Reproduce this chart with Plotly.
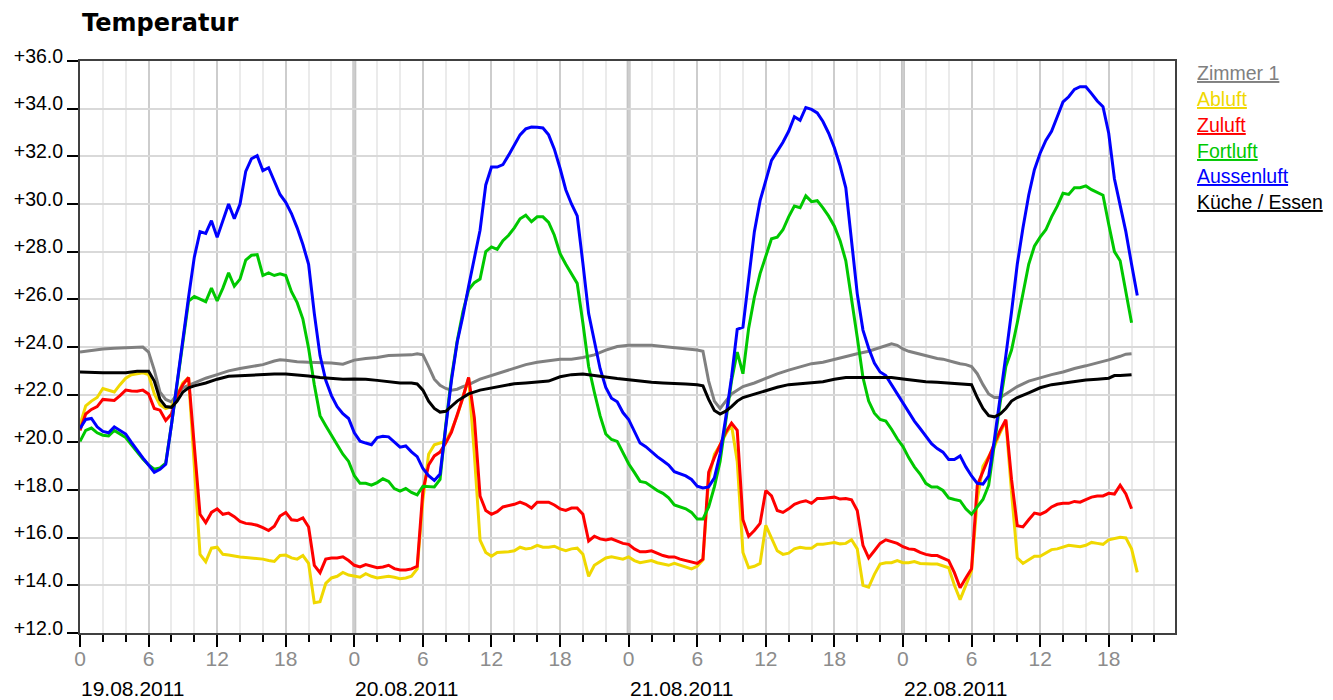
import plotly.graph_objects as go

# ---- data: (hour since 19.08.2011 00:00, temperature) ----
zimmer1 = [(0,23.79),(1,23.87),(2,23.92),(3,23.95),(4,23.98),(5,24.01),(5.5,24.0),(6,23.79),(6.5,23.03),(7,22.11),(7.5,21.8),(8,21.7),(8.5,22.03),(9,22.29),(10,22.49),(11,22.69),(12,22.84),(13,23.0),(14,23.1),(15,23.18),(16,23.26),(17,23.41),(17.5,23.46),(18,23.44),(19,23.38),(20,23.36),(21,23.36),(22,23.33),(23,23.28),
    (24,23.45),(25,23.52),(26,23.56),(27,23.64),(28,23.64),(29,23.67),(29.5,23.72),(30,23.67),(30.5,23.18),(31,22.65),(31.5,22.39),(32,22.26),(32.5,22.19),(33,22.23),(33.5,22.34),(34,22.42),(35,22.65),(36,22.8),(37,22.95),(38,23.1),(39,23.26),(40,23.36),(41,23.41),(42,23.49),(43,23.49),(44,23.56),(45,23.67),(46,23.87),(47,24.02),
    (48,24.07),(49,24.07),(50,24.07),(51,24.02),(52,23.98),(53,23.92),(54,23.87),(54.5,23.82),(55,22.57),(55.5,21.73),(56,21.42),(56.5,21.73),(57,22.03),(57.5,22.19),(58,22.34),(59,22.49),(60,22.69),(61,22.87),(62,23.03),(63,23.18),(64,23.3),(65,23.36),(66,23.49),(67,23.61),(68,23.72),(69,23.82),(70,23.98),(71,24.13),(71.5,24.07),
    (72,23.92),(72.5,23.82),(73,23.76),(73.5,23.72),(74,23.64),(74.5,23.57),(75,23.52),(75.5,23.49),(76,23.44),(76.5,23.36),(77,23.3),(77.5,23.26),(78,23.18),(78.5,22.88),(79,22.42),(79.5,22.03),(80,21.88),(80.5,21.88),(81,22.03),(81.5,22.19),(82,22.34),(83,22.57),(84,22.72),(85,22.84),(86,22.95),(87,23.1),(88,23.21),(89,23.33),(90,23.46),(91,23.61),(91.5,23.7),(92,23.72)]

abluft = [(0,20.73),(0.5,21.53),(1,21.73),(1.5,21.88),(2,22.26),(2.5,22.19),(3,22.11),(3.5,22.42),(4,22.69),(4.5,22.84),(5,22.87),(5.5,22.92),(6,22.84),(6.5,22.03),(7,21.57),(7.5,21.42),(8,21.5),(8.5,22.03),(9,22.49),(9.5,22.72),(10.5,15.3),(11,14.99),(11.5,15.56),(12,15.6),(12.5,15.3),(13,15.27),(13.5,15.22),(14,15.19),(14.5,15.17),(15,15.15),(15.5,15.12),(16,15.1),(16.5,15.04),(17,15.0),(17.5,15.25),(18,15.27),(18.5,15.15),(19,15.1),(19.5,15.25),(20,14.92),(20.5,13.27),(21,13.31),(21.5,14.08),(22,14.31),(22.5,14.38),(23,14.54),(23.5,14.43),
    (24,14.38),(24.5,14.34),(25,14.49),(25.5,14.38),(26,14.31),(26.5,14.34),(27,14.38),(27.5,14.34),(28,14.28),(28.5,14.31),(29,14.38),(29.5,14.69),(30,17.6),(30.5,19.5),(31,19.9),(31.5,19.97),(32,20.04),(32.5,20.5),(33,21.1),(33.5,21.9),(34,22.7),(34.5,19.5),(35,15.9),(35.5,15.38),(36,15.22),(36.5,15.38),(37,15.38),(37.5,15.41),(38,15.45),(38.5,15.6),(39,15.53),(39.5,15.56),(40,15.68),(40.5,15.6),(41,15.6),(41.5,15.64),(42,15.53),(42.5,15.45),(43,15.53),(43.5,15.56),(44,15.3),(44.5,14.38),(45,14.84),(45.5,15.0),(46,15.15),(46.5,15.2),(47,15.15),(47.5,15.1),
    (48,15.19),(48.5,15.04),(49,14.95),(49.5,14.98),(50,15.04),(50.5,14.95),(51,14.89),(51.5,14.84),(52,14.92),(52.5,14.84),(53,14.77),(53.5,14.69),(54,14.8),(54.5,15.07),(55,18.44),(55.5,19.5),(56,19.89),(56.5,20.35),(57,20.73),(57.5,19.2),(58,15.38),(58.5,14.74),(59,14.8),(59.5,14.92),(60,16.52),(60.5,15.98),(61,15.45),(61.5,15.3),(62,15.35),(62.5,15.53),(63,15.6),(63.5,15.56),(64,15.56),(64.5,15.72),(65,15.72),(65.5,15.76),(66,15.8),(66.5,15.74),(67,15.76),(67.5,15.91),(68,15.53),(68.5,14.0),(69,13.92),(69.5,14.46),(70,14.89),(70.5,14.95),(71,14.95),(71.5,15.04),
    (72,14.95),(72.5,14.95),(73,15.0),(73.5,14.92),(74,14.89),(74.5,14.89),(75,14.89),(75.5,14.8),(76,14.74),(76.5,14.0),(77,13.4),(77.5,14.0),(78,14.61),(78.5,17.6),(79,19.0),(79.5,19.4),(80,19.82),(80.5,20.4),(81,20.9),(81.5,17.9),(82,15.15),(82.5,14.92),(83,15.07),(83.5,15.22),(84,15.22),(84.5,15.35),(85,15.5),(85.5,15.53),(86,15.6),(86.5,15.68),(87,15.65),(87.5,15.62),(88,15.68),(88.5,15.8),(89,15.76),(89.5,15.72),(90,15.91),(90.5,15.95),(91,16.02),(91.5,15.99),(92,15.53),(92.5,14.54)]

zuluft = [(0,20.5),(0.5,21.19),(1,21.38),(1.5,21.5),(2,21.8),(2.5,21.78),(3,21.76),(3.5,21.96),(4,22.19),(4.5,22.15),(5,22.14),(5.5,22.19),(6,22.03),(6.5,21.42),(7,21.35),(7.5,20.92),(8,21.19),(8.5,21.96),(9,22.42),(9.5,22.72),(10.5,16.98),(11,16.63),(11.5,17.06),(12,17.21),(12.5,16.98),(13,17.03),(13.5,16.88),(14,16.68),(14.5,16.6),(15,16.57),(15.5,16.52),(16,16.42),(16.5,16.3),(17,16.48),(17.5,16.91),(18,17.06),(18.5,16.75),(19,16.72),(19.5,16.83),(20,16.45),(20.5,14.84),(21,14.53),(21.5,15.1),(22,15.15),(22.5,15.15),(23,15.2),(23.5,15.04),
    (24,14.84),(24.5,14.77),(25,14.87),(25.5,14.8),(26,14.74),(26.5,14.77),(27,14.84),(27.5,14.7),(28,14.64),(28.5,14.64),(29,14.69),(29.5,14.8),(30,17.98),(30.5,19.05),(31,19.43),(31.5,19.59),(32,19.97),(32.5,20.43),(33,21.12),(33.5,21.88),(34,22.72),(34.5,21.04),(35,17.75),(35.5,17.14),(36,16.98),(36.5,17.09),(37,17.29),(37.5,17.34),(38,17.4),(38.5,17.49),(39,17.4),(39.5,17.24),(40,17.49),(40.5,17.49),(41,17.49),(41.5,17.37),(42,17.21),(42.5,17.14),(43,17.24),(43.5,17.24),(44,16.98),(44.5,15.86),(45,16.06),(45.5,15.95),(46,15.9),(46.5,15.95),(47,15.86),(47.5,15.76),
    (48,15.72),(48.5,15.53),(49,15.41),(49.5,15.41),(50,15.45),(50.5,15.35),(51,15.25),(51.5,15.19),(52,15.19),(52.5,15.1),(53,15.04),(53.5,14.95),(54,14.92),(54.5,15.1),(55,18.74),(55.5,19.36),(56,19.89),(56.5,20.43),(57,20.81),(57.5,20.5),(58,16.75),(58.5,16.06),(59,16.3),(59.5,16.6),(60,17.98),(60.5,17.75),(61,17.14),(61.5,17.06),(62,17.21),(62.5,17.4),(63,17.49),(63.5,17.55),(64,17.44),(64.5,17.64),(65,17.64),(65.5,17.67),(66,17.7),(66.5,17.62),(67,17.64),(67.5,17.59),(68,17.14),(68.5,15.68),(69,15.15),(69.5,15.45),(70,15.76),(70.5,15.91),(71,15.84),(71.5,15.76),
    (72,15.62),(72.5,15.53),(73,15.5),(73.5,15.38),(74,15.3),(74.5,15.25),(75,15.25),(75.5,15.15),(76,15.04),(76.5,14.53),(77,13.9),(77.5,14.31),(78,14.69),(78.5,18.2),(79,18.82),(79.5,19.36),(80,19.95),(80.5,20.5),(81,20.95),(81.5,18.44),(82,16.5),(82.5,16.45),(83,16.75),(83.5,17.03),(84,16.98),(84.5,17.09),(85,17.29),(85.5,17.4),(86,17.44),(86.5,17.44),(87,17.52),(87.5,17.49),(88,17.6),(88.5,17.7),(89,17.75),(89.5,17.75),(90,17.86),(90.5,17.83),(91,18.2),(91.5,17.83),(92,17.21)]

fortluft = [(0,20.04),(0.5,20.5),(1,20.6),(1.5,20.4),(2,20.3),(2.5,20.27),(3,20.5),(3.5,20.35),(4,20.2),(4.5,19.9),(5,19.59),(5.5,19.3),(6,19.05),(6.5,18.87),(7,18.93),(7.5,19.13),(8,20.73),(8.5,22.42),(9,24.25),(9.5,25.93),(10,26.12),(10.5,26.0),(11,25.9),(11.5,26.47),(12,25.93),(12.5,26.47),(13,27.11),(13.5,26.55),(14,26.85),(14.5,27.65),(15,27.85),(15.5,27.88),(16,27.0),(16.5,27.11),(17,27.0),(17.5,27.07),(18,27.0),(18.5,26.32),(19,25.86),(19.5,25.17),(20,23.95),(20.5,22.42),(21,21.12),(21.5,20.7),(22,20.27),(22.5,19.9),(23,19.5),(23.5,19.2),
    (24,18.6),(24.5,18.28),(25,18.28),(25.5,18.2),(26,18.31),(26.5,18.47),(27,18.36),(27.5,18.06),(28,17.95),(28.5,18.06),(29,17.9),(29.5,17.8),(30,18.16),(30.5,18.16),(31,18.13),(31.5,18.44),(32,20.73),(32.5,22.72),(33,24.25),(33.5,25.48),(34,26.4),(34.5,26.7),(35,26.85),(35.5,28.0),(36,28.2),(36.5,28.1),(37,28.46),(37.5,28.69),(38,29.0),(38.5,29.38),(39,29.53),(39.5,29.26),(40,29.46),(40.5,29.46),(41,29.23),(41.5,28.69),(42,27.92),(42.5,27.47),(43,27.08),(43.5,26.67),(44,25.0),(44.5,23.18),(45,22.1),(45.5,21.12),(46,20.35),(46.5,20.12),(47,20.04),(47.5,19.59),
    (48,19.1),(48.5,18.74),(49,18.36),(49.5,18.31),(50,18.13),(50.5,17.98),(51,17.86),(51.5,17.67),(52,17.37),(52.5,17.29),(53,17.21),(53.5,17.06),(54,16.78),(54.5,16.78),(55,17.29),(55.5,18.13),(56,19.2),(56.5,20.89),(57,22.57),(57.5,23.79),(58,22.88),(58.5,24.79),(59,26.09),(59.5,27.08),(60,27.77),(60.5,28.54),(61,28.61),(61.5,28.92),(62,29.46),(62.5,29.91),(63,29.84),(63.5,30.34),(64,30.1),(64.5,30.14),(65,29.84),(65.5,29.49),(66,29.07),(66.5,28.46),(67,27.62),(67.5,26.09),(68,24.41),(68.5,22.72),(69,21.73),(69.5,21.22),(70,20.96),(70.5,20.89),(71,20.55),(71.5,20.15),
    (72,19.82),(72.5,19.36),(73,18.97),(73.5,18.67),(74,18.28),(74.5,18.13),(75,18.13),(75.5,17.98),(76,17.67),(76.5,17.6),(77,17.55),(77.5,17.21),(78,16.98),(78.5,17.29),(79,17.6),(79.5,18.2),(80,19.97),(80.5,21.65),(81,23.18),(81.5,23.87),(82,25.02),(82.5,26.24),(83,27.47),(83.5,28.23),(84,28.61),(84.5,28.92),(85,29.46),(85.5,29.91),(86,30.45),(86.5,30.4),(87,30.68),(87.5,30.68),(88,30.76),(88.5,30.6),(89,30.5),(89.5,30.37),(90,29.15),(90.5,28.0),(91,27.62),(91.5,26.4),(92,25.02)]

aussenluft = [(0,20.58),(0.5,20.96),(1,21.0),(1.5,20.65),(2,20.46),(2.5,20.4),(3,20.65),(3.5,20.5),(4,20.35),(4.5,20.0),(5,19.66),(5.5,19.35),(6,19.05),(6.5,18.74),(7,18.87),(7.5,19.08),(8,20.73),(8.5,22.57),(9,24.4),(9.5,26.1),(10,27.77),(10.5,28.84),(11,28.77),(11.5,29.3),(12,28.6),(12.5,29.3),(13,30.0),(13.5,29.38),(14,30.0),(14.5,31.37),(15,31.9),(15.5,32.03),(16,31.4),(16.5,31.52),(17,30.99),(17.5,30.4),(18,30.07),(18.5,29.6),(19,29.0),(19.5,28.3),(20,27.47),(20.5,25.4),(21,23.64),(21.5,22.6),(22,21.96),(22.5,21.5),(23,21.2),(23.5,21.0),
    (24,20.4),(24.5,20.05),(25,19.97),(25.5,19.9),(26,20.2),(26.5,20.25),(27,20.23),(27.5,20.0),(28,19.8),(28.5,19.85),(29,19.6),(29.5,19.4),(30,18.9),(30.5,18.6),(31,18.4),(31.5,18.67),(32,20.7),(32.5,22.6),(33,24.2),(33.5,25.3),(34,26.55),(34.5,27.8),(35,28.9),(35.5,30.8),(36,31.55),(36.5,31.55),(37,31.65),(37.5,32.05),(38,32.5),(38.5,32.9),(39,33.15),(39.5,33.23),(40,33.22),(40.5,33.19),(41,32.9),(41.5,32.3),(42,31.5),(42.5,30.6),(43,30.0),(43.5,29.5),(44,27.5),(44.5,25.4),(45,24.25),(45.5,23.1),(46,22.3),(46.5,21.85),(47,21.7),(47.5,21.25),
    (48,20.96),(48.5,20.43),(49,19.97),(49.5,19.82),(50,19.59),(50.5,19.4),(51,19.23),(51.5,19.05),(52,18.77),(52.5,18.67),(53,18.59),(53.5,18.44),(54,18.16),(54.5,18.09),(55,18.13),(55.5,18.51),(56,19.51),(56.5,21.04),(57,22.72),(57.5,24.74),(58,24.83),(58.5,26.85),(59,28.84),(59.5,30.14),(60,30.99),(60.5,31.83),(61,32.21),(61.5,32.59),(62,33.05),(62.5,33.66),(63,33.51),(63.5,34.05),(64,33.97),(64.5,33.82),(65,33.46),(65.5,32.97),(66,32.36),(66.5,31.6),(67,30.68),(67.5,28.38),(68,26.24),(68.5,24.71),(69,23.95),(69.5,23.33),(70,22.95),(70.5,22.8),(71,22.42),(71.5,22.03),
    (72,21.7),(72.5,21.27),(73,20.89),(73.5,20.58),(74,20.27),(74.5,19.94),(75,19.74),(75.5,19.59),(76,19.28),(76.5,19.28),(77,19.43),(77.5,18.97),(78,18.59),(78.5,18.28),(79,18.25),(79.5,18.59),(80,20.12),(80.5,21.8),(81,23.64),(81.5,25.48),(82,27.47),(82.5,29.0),(83,30.37),(83.5,31.44),(84,32.13),(84.5,32.67),(85,33.05),(85.5,33.66),(86,34.28),(86.5,34.5),(87,34.81),(87.5,34.92),(88,34.92),(88.5,34.63),(89,34.32),(89.5,34.08),(90,32.97),(90.5,31.06),(91,29.99),(91.5,28.84),(92,27.47),(92.5,26.16)]

kueche = [(0,22.95),(1,22.92),(2,22.92),(3,22.92),(4,22.92),(5,22.98),(6,22.98),(6.5,22.57),(7,21.8),(7.5,21.5),(8,21.47),(8.5,21.73),(9,22.11),(9.5,22.29),(10,22.37),(11,22.49),(12,22.65),(13,22.77),(14,22.8),(15,22.84),(16,22.87),(17,22.87),(18,22.87),(19,22.84),(20,22.78),(21,22.72),(22,22.68),(23,22.65),
    (24,22.66),(25,22.65),(26,22.6),(27,22.54),(28,22.49),(29,22.49),(29.5,22.45),(30,22.19),(30.5,21.73),(31,21.42),(31.5,21.27),(32,21.3),(32.5,21.5),(33,21.73),(33.5,21.88),(34,22.03),(35,22.19),(36,22.29),(37,22.39),(38,22.46),(39,22.49),(40,22.54),(41,22.57),(42,22.75),(43,22.84),(44,22.87),(45,22.8),(46,22.72),(47,22.68),
    (48,22.63),(49,22.57),(50,22.52),(51,22.49),(52,22.48),(53,22.45),(54,22.42),(54.5,22.37),(55,21.8),(55.5,21.34),(56,21.19),(56.5,21.31),(57,21.5),(57.5,21.73),(58,21.88),(59,22.03),(60,22.19),(61,22.31),(62,22.42),(63,22.46),(64,22.49),(65,22.54),(66,22.65),(67,22.72),(68,22.72),(69,22.72),(70,22.75),(71,22.72),
    (72,22.66),(73,22.6),(74,22.54),(75,22.52),(76,22.49),(77,22.48),(78,22.42),(78.5,21.88),(79,21.42),(79.5,21.12),(80,21.07),(80.5,21.19),(81,21.42),(81.5,21.73),(82,21.88),(83,22.08),(84,22.29),(85,22.42),(86,22.49),(87,22.57),(88,22.62),(89,22.65),(90,22.69),(90.5,22.8),(91,22.8),(92,22.84)]

series_names = ["Zimmer 1", "Abluft", "Zuluft", "Fortluft", "Aussenluft", "Küche / Essen"]
series_data = [zimmer1, abluft, zuluft, fortluft, aussenluft, kueche]
series_colors = ["#808080", "#f0d800", "#ff0000", "#00c800", "#0000ff", "#000000"]

day_labels = ["19.08.2011", "20.08.2011", "21.08.2011", "22.08.2011"]
day_starts = [0, 24, 48, 72]
hour_tickvals = [d + h for d in day_starts for h in (0, 6, 12, 18)]
hour_ticktext = [str(h) for d in day_starts for h in (0, 6, 12, 18)]
y_tickvals = [12, 14, 16, 18, 20, 22, 24, 26, 28, 30, 32, 34, 36]
y_ticktext = ["+12.0", "+14.0", "+16.0", "+18.0", "+20.0", "+22.0", "+24.0",
              "+26.0", "+28.0", "+30.0", "+32.0", "+34.0", "+36.0"]
x_range = [0, 95.8]
y_range = [12, 36]

fig = go.Figure()
for name, data, color in zip(series_names, series_data, series_colors):
    fig.add_trace(go.Scatter(
        x=[p[0] for p in data], y=[p[1] for p in data], name=name, mode="lines",
        line=dict(color=color, width=3), showlegend=False))

# day separators
for d in day_starts[1:]:
    fig.add_shape(type="line", xref="x", yref="paper", x0=d, x1=d, y0=0, y1=1,
                  line=dict(color="#c4c4c4", width=4), layer="below")

# date labels
for d, lab in zip(day_starts, day_labels):
    fig.add_annotation(x=d, xref="x", y=-0.097, yref="paper", text=lab, showarrow=False,
                       xanchor="left", yanchor="middle", xshift=-1,
                       font=dict(family="Liberation Sans", size=21, color="#000000"))

# legend as underlined coloured text
for i, (name, color) in enumerate(zip(series_names, series_colors)):
    fig.add_annotation(x=1.0185, xref="paper", y=0.979 - i * 0.0452, yref="paper", text=name,
                       showarrow=False, xanchor="left", yanchor="middle",
                       font=dict(family="Liberation Sans", size=19.5, color=color, lineposition="under"))

# the page body has an 8px margin: figure is sized/offset so the plot area lands where the reference's does
fig.update_layout(
    width=1325, height=692,
    margin=dict(l=72, r=158, t=53, b=67, autoexpand=False),
    paper_bgcolor="white", plot_bgcolor="white",
    title=dict(text="<b>Temperatur</b>", x=74/1325, xref="container", xanchor="left",
               y=1 - 15/692, yref="container", yanchor="middle",
               font=dict(family="DejaVu Sans", size=24, color="#000000")),
    xaxis=dict(range=x_range, tickmode="array", tickvals=hour_tickvals, ticktext=hour_ticktext,
               showgrid=True, gridcolor="#cdcdcd", gridwidth=2, automargin=False,
               ticks="outside", ticklen=12, tickwidth=1.5, tickcolor="#000000",
               ticklabelstandoff=-6,
               tickfont=dict(family="Liberation Sans", size=21, color="#8c8c8c"),
               minor=dict(dtick=2, tick0=0, showgrid=True, gridcolor="#ebebeb", gridwidth=1.5,
                          ticks="outside", ticklen=7, tickcolor="#000000", tickwidth=1.5),
               showline=True, linecolor="#404040", linewidth=2, mirror=True, zeroline=False),
    yaxis=dict(range=y_range, tickmode="array", tickvals=y_tickvals, ticktext=y_ticktext,
               showgrid=True, gridcolor="#d9d9d9", gridwidth=2, automargin=False,
               ticks="outside", ticklen=11, tickwidth=1.5, tickcolor="#000000",
               ticklabelshift=-5,
               tickfont=dict(family="Liberation Sans", size=19.5, color="#000000"),
               showline=True, linecolor="#404040", linewidth=2, mirror=True, zeroline=False),
)

fig.write_html("out.html")
